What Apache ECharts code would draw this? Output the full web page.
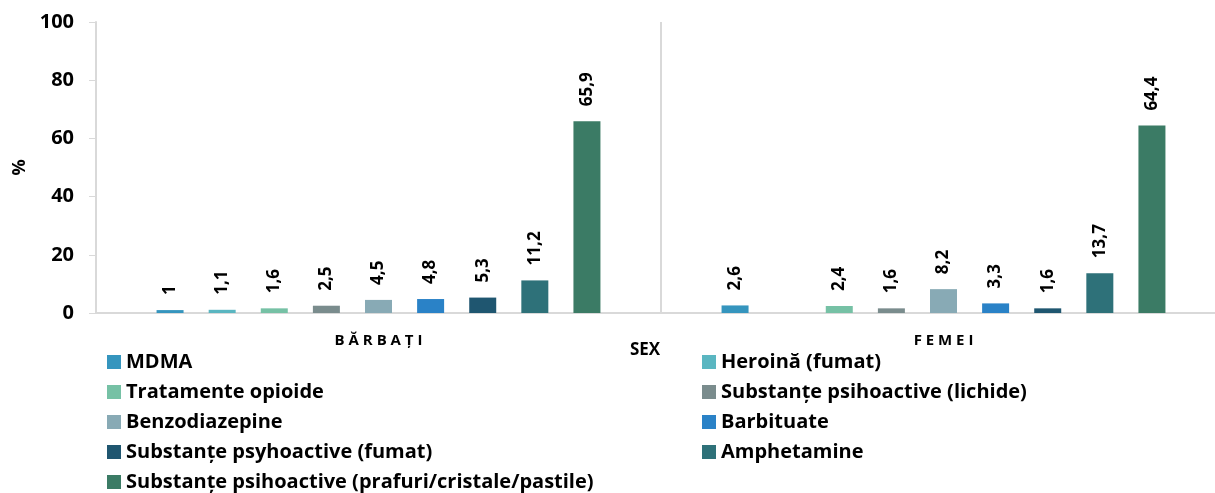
<!DOCTYPE html>
<html>
<head>
<meta charset="utf-8">
<script src="https://cdn.jsdelivr.net/npm/echarts@6/dist/echarts.min.js"></script>
<style>
  html, body { margin: 0; padding: 0; background: #fff; overflow: hidden; }
  /* grafic mai lat decat fereastra: axa X continua dupa marginea dreapta */
  #main { width: 1226px; height: 493px; }
</style>
</head>
<body>
<div id="main"></div>
<script>
  // categorii si serii
  var categories = ['BĂRBAȚI', 'FEMEI'];
  var seriesNames = [
    'MDMA',
    'Heroină (fumat)',
    'Tratamente opioide',
    'Substanțe psihoactive (lichide)',
    'Benzodiazepine',
    'Barbituate',
    'Substanțe psyhoactive (fumat)',
    'Amphetamine',
    'Substanțe psihoactive (prafuri/cristale/pastile)'
  ];
  var mdma = [1, 2.6];
  var heroina = [1.1, null];
  var tratamente = [1.6, 2.4];
  var lichide = [2.5, 1.6];
  var benzo = [4.5, 8.2];
  var barbituate = [4.8, 3.3];
  var fumat = [5.3, 1.6];
  var amphetamine = [11.2, 13.7];
  var prafuri = [65.9, 64.4];
  var yTicks = [0, 20, 40, 60, 80, 100];

  var allValues = [mdma, heroina, tratamente, lichide, benzo, barbituate, fumat, amphetamine, prafuri];
  var colors = ['#3595be', '#5ab6c1', '#76c1a5', '#7a8c8d', '#88aab5', '#2a82c7', '#1f5670', '#2e7179', '#3b7b65'];
  var font = 'Open Sans';

  var series = [];
  for (var i = 0; i < seriesNames.length; i++) {
    series.push({
      name: seriesNames[i],
      type: 'bar',
      data: allValues[i],
      barWidth: 27,
      barGap: '93%',
      itemStyle: { color: colors[i] },
      label: {
        show: true,
        position: 'top',
        rotate: 90,
        align: 'left',
        verticalAlign: 'middle',
        distance: 15,
        fontFamily: font,
        fontWeight: 'bold',
        fontSize: 17,
        color: '#000',
        formatter: function (p) { return String(p.value).replace('.', ','); }
      }
    });
  }

  var legendText = { fontFamily: font, fontWeight: 'bold', fontSize: 20, color: '#000', lineHeight: 20 };

  var myChart = echarts.init(document.getElementById('main'));
  myChart.setOption({
    animation: false,
    color: colors,
    grid: { left: 96, top: 22, right: 0, bottom: 180, containLabel: false },
    legend: [
      {
        orient: 'vertical',
        left: 107,
        top: 352,
        padding: 0,
        itemWidth: 14,
        itemHeight: 14,
        itemGap: 10,
        icon: 'rect',
        data: [seriesNames[0], seriesNames[2], seriesNames[4], seriesNames[6], seriesNames[8]],
        textStyle: legendText
      },
      {
        orient: 'vertical',
        left: 702,
        top: 352,
        padding: 0,
        itemWidth: 14,
        itemHeight: 14,
        itemGap: 10,
        icon: 'rect',
        data: [seriesNames[1], seriesNames[3], seriesNames[5], seriesNames[7]],
        textStyle: legendText
      }
    ],
    xAxis: {
      type: 'category',
      data: categories,
      name: 'SEX',
      nameLocation: 'middle',
      nameGap: 29,
      nameMoveOverlap: false,
      nameTextStyle: { fontFamily: font, fontWeight: 'bold', fontSize: 17, color: '#000', padding: [0, 32, 0, 0] },
      axisLine: { lineStyle: { color: '#d9d9d9', width: 2 } },
      axisTick: { show: false },
      splitLine: { show: true, lineStyle: { color: '#d9d9d9', width: 2 } },
      axisLabel: {
        margin: 20,
        fontFamily: font,
        fontWeight: 'bold',
        fontSize: 15,
        color: '#000',
        formatter: function (v) { return v.split('').join(' '); }
      }
    },
    yAxis: {
      type: 'value',
      min: yTicks[0],
      max: yTicks[yTicks.length - 1],
      interval: 20,
      name: '%',
      nameLocation: 'middle',
      nameGap: 66,
      nameRotate: 90,
      nameTextStyle: { fontFamily: font, fontWeight: 'bold', fontSize: 18, color: '#000' },
      axisLine: { show: true, lineStyle: { color: '#d9d9d9', width: 2 } },
      axisTick: { show: true, length: 7, lineStyle: { color: '#d9d9d9' } },
      splitLine: { show: false },
      axisLabel: { margin: 22, fontFamily: font, fontWeight: 'bold', fontSize: 20, color: '#000' }
    },
    series: series
  });
</script>
</body>
</html>
